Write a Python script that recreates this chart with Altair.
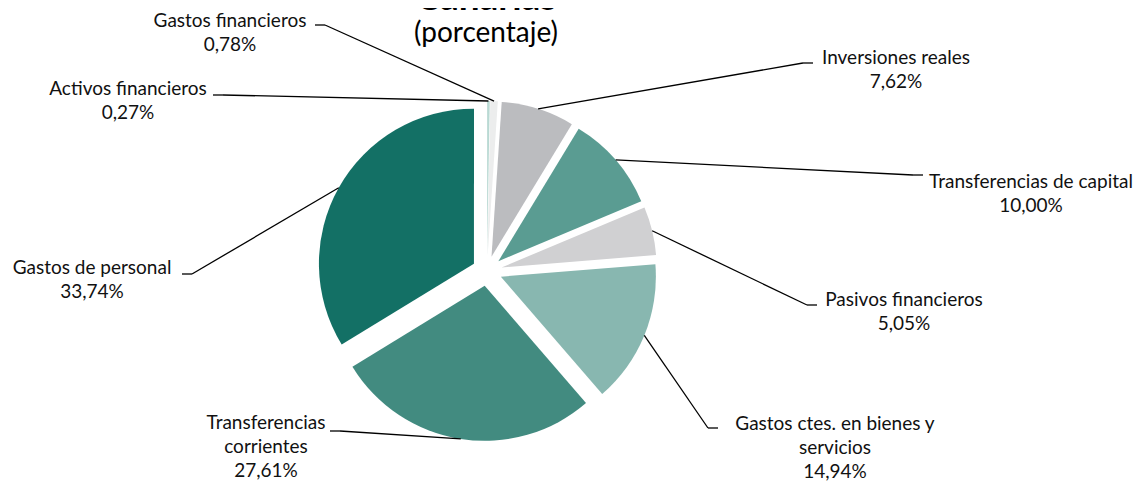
import math
import altair as alt
import pandas as pd

# ---------------- data ----------------
categories = ["Activos financieros", "Gastos financieros", "Inversiones reales",
              "Transferencias de capital", "Pasivos financieros",
              "Gastos ctes. en bienes y servicios", "Transferencias corrientes",
              "Gastos de personal"]
label_names = ["Activos financieros", "Gastos financieros", "Inversiones reales",
               "Transferencias de capital", "Pasivos financieros",
               "Gastos ctes. en bienes y\nservicios", "Transferencias\ncorrientes",
               "Gastos de personal"]
values = [0.27, 0.78, 7.62, 10.00, 5.05, 14.94, 27.61, 33.74]
colors = ["#B9D9D3", "#ECEDED", "#BBBCBF", "#5A9C92", "#D0D0D2",
          "#88B7B0", "#428B80", "#137065"]

# ---------------- layout (pixels, relative to pie centre, y down) ----------------
W, H = 1132, 475          # plot area
R = 155                   # pie radius
CX, CY = 479, 263         # pie centre inside plot area
EXPLODE = 15              # slice explosion
label_pos = [(-359, -182), (-257, -250), (409, -213), (544, -89),
             (417, 29), (348, 153), (-221, 152), (-395, -3)]
elbow_pos = [(-264, -176), (-162, -246), (316, -208), (426, -96),
             (320, 34), (221, 157), (-147, 160), (-295, 3)]
STUB = 10


def pct(v):
    return f"{v:.2f}".replace(".", ",") + "%"


df = pd.DataFrame({
    "category": categories,
    "label": [f"{n}\n{pct(v)}" for n, v in zip(label_names, values)],
    "value": values,
    "order": list(range(len(values))),
    "lx": [p[0] / R for p in label_pos],
    "ly": [-p[1] / R for p in label_pos],
    "bx": [p[0] / R for p in elbow_pos],
    "by": [-p[1] / R for p in elbow_pos],
})

e = EXPLODE / R
base = alt.Chart(df).transform_window(
    t1="sum(value)", sort=[alt.SortField("order")], frame=[None, 0]
).transform_calculate(
    t0="datum.t1 - datum.value",
    mid="(datum.t1 - datum.value / 2) / 100 * 2 * PI",
).transform_calculate(
    ex=f"{e} * sin(datum.mid)",
    ey=f"{e} * cos(datum.mid)",
    sx=f"{1 + e} * sin(datum.mid)",
    sy=f"{1 + e} * cos(datum.mid)",
    tx=f"datum.bx + (datum.lx > datum.bx ? 1 : -1) * {STUB / R}",
)

xs = alt.Scale(domain=[-CX / R, (W - CX) / R])
ys = alt.Scale(domain=[-(H - CY) / R, CY / R])

pie = base.mark_arc(radius=R).encode(
    x=alt.X("ex:Q", scale=xs, axis=None),
    y=alt.Y("ey:Q", scale=ys, axis=None),
    theta=alt.Theta("t0:Q", scale=alt.Scale(domain=[0, 100], range=[0, 2 * math.pi])),
    theta2="t1:Q",
    color=alt.Color("category:N", scale=alt.Scale(domain=categories, range=colors), legend=None),
)

lead1 = base.mark_rule(color="black", strokeWidth=1.3).encode(
    x=alt.X("sx:Q", scale=xs, axis=None), y=alt.Y("sy:Q", scale=ys, axis=None),
    x2="bx:Q", y2="by:Q",
)
lead2 = base.mark_rule(color="black", strokeWidth=1.3).encode(
    x=alt.X("bx:Q", scale=xs, axis=None), y=alt.Y("by:Q", scale=ys, axis=None),
    x2="tx:Q", y2="by:Q",
)

labels = base.mark_text(font="Lato", fontSize=19, lineBreak="\n", lineHeight=24,
                        align="center", baseline="middle", color="#111111").encode(
    x=alt.X("lx:Q", scale=xs, axis=None), y=alt.Y("ly:Q", scale=ys, axis=None),
    text="label:N",
)

chart = alt.layer(pie, lead1, lead2, labels).properties(
    width=W, height=H,
    title=alt.TitleParams("Canarias", subtitle="(porcentaje)", anchor="middle",
                          font="Lato", fontSize=37, fontWeight="bold", color="black",
                          lineHeight=35,
                          subtitleFont="Lato", subtitleFontSize=28, subtitleColor="black",
                          subtitlePadding=2, offset=-41, dx=-88),
    autosize=alt.AutoSizeParams(type="none"),
    padding=0,
).configure(background="white").configure_view(stroke=None)

chart.save("out.html", embed_options={"renderer": "svg", "actions": False})
